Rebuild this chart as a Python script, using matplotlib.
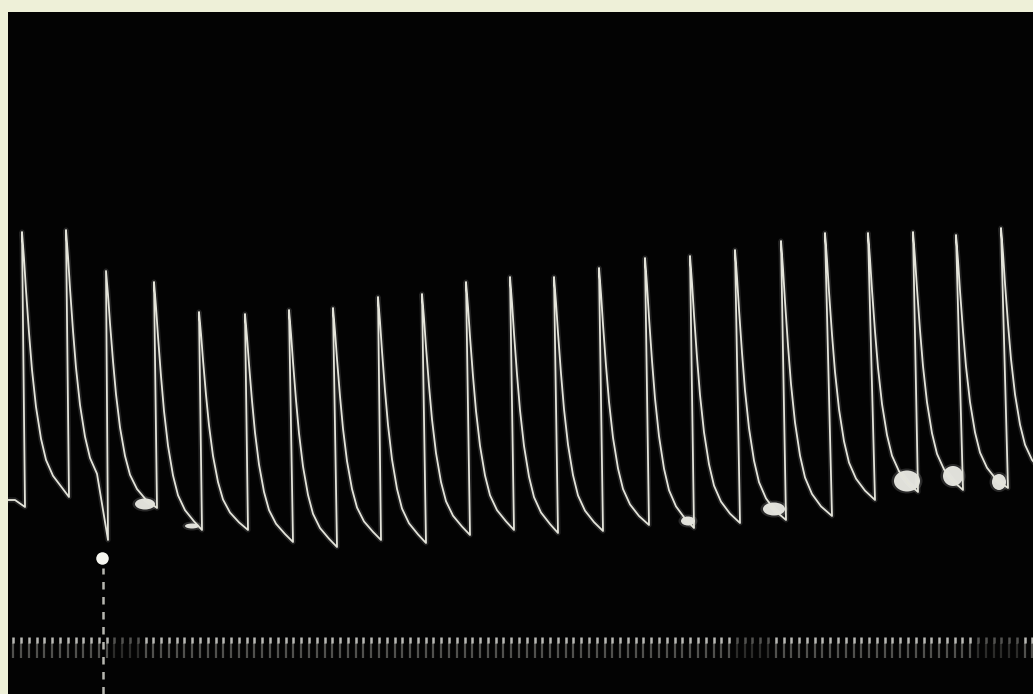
import matplotlib
matplotlib.use("Agg")
import matplotlib.pyplot as plt
from matplotlib.patches import Ellipse
import numpy as np

# oscilloscope record of a twitch series; time in trace units, tension in a.u.
peak_time = [14, 58, 98, 146, 191, 237, 281, 325, 370, 414, 458, 502,
             546, 591, 637, 682, 727, 773, 817, 860, 905, 948, 993]
peak_tension = [462, 464, 423, 412, 382, 380, 384, 386, 397, 400, 412, 417,
                417, 426, 436, 438, 444, 453, 461, 461, 462, 459, 466]
foot_time = [17, 61, 100, 149, 194, 240, 285, 329, 373, 418, 462, 506,
             550, 595, 641, 686, 732, 778, 824, 867, 910, 955, 1000]
foot_tension = [187, 197, 154, 186, 164, 164, 152, 147, 154, 151, 159, 164,
                161, 163, 169, 166, 171, 174, 178, 194, 202, 204, 206]
# level the relaxation settles at after each twitch
rest_tension = [197, 199, 186, 164, 164, 152, 147, 154, 151, 159, 164, 161,
                163, 169, 166, 171, 174, 178, 194, 202, 204, 206, 214]

# relaxation profile (time after peak, fraction of amplitude left)
relax_dt = [2, 4, 7, 10, 14, 19, 24, 31, 40]
relax_frac = [0.90, 0.78, 0.62, 0.48, 0.34, 0.22, 0.14, 0.08, 0.035]

lead_time = [0, 7]
lead_tension = [194, 194]
end_time = 1025

# bright noisy patches at the bottom of some relaxations: time, tension, width, height
blob_time = [137, 184, 680, 766, 899, 945, 991]
blob_tension = [190, 168, 173, 185, 213, 218, 212]
blob_w = [20, 14, 14, 22, 26, 20, 14]
blob_h = [11, 5, 9, 13, 21, 20, 16]

stim_time = 94
stim_tension = 136

marker_start = 5.3
marker_period = 7.78
dim_ranges = [(102, 132), (725, 765), (965, 1012)]

BG = '#eef0d8'
TRACE = '#e4e4da'

fig = plt.figure(figsize=(10.33, 6.94), dpi=100, facecolor=BG)
ax = fig.add_axes([8 / 1033, 0, 1025 / 1033, 682 / 694])
ax.set_facecolor('#030303')
ax.set_xlim(0, 1025)
ax.set_ylim(0, 682)
ax.set_xticks([])
ax.set_yticks([])
for s in ax.spines.values():
    s.set_visible(False)

# build the trace
t, v = list(lead_time), list(lead_tension)
n = len(peak_time)
for i in range(n):
    t += [foot_time[i], peak_time[i]]
    v += [foot_tension[i], peak_tension[i]]
    amp = peak_tension[i] - rest_tension[i]
    stop = foot_time[i + 1] - 6 if i + 1 < n else end_time + 50
    for dx, f in zip(relax_dt, relax_frac):
        if peak_time[i] + dx > stop:
            break
        t.append(peak_time[i] + dx)
        v.append(rest_tension[i] + f * amp)

ax.plot(t, v, color='white', lw=3.8, alpha=0.12, solid_joinstyle='round')
ax.plot(t, v, color=TRACE, lw=1.3, solid_joinstyle='round')

for bt, bv, bw, bh in zip(blob_time, blob_tension, blob_w, blob_h):
    ax.add_patch(Ellipse((bt, bv), bw + 5, bh + 4, color='white', alpha=0.15, lw=0))
    ax.add_patch(Ellipse((bt, bv), bw, bh, color='#f4f4ee', alpha=0.9, lw=0))

# time marker row
marks = np.arange(marker_start, 1025, marker_period)
for m in marks:
    dim = any(a <= m <= b for a, b in dim_ranges)
    ax.plot([m, m], [36, 51], color='#bbbbb4', lw=1.6, alpha=0.22 if dim else 0.42,
            solid_capstyle='butt')
    ax.plot([m, m], [51, 57], color='#e8e8e2', lw=1.8, alpha=0.35 if dim else 0.8,
            solid_capstyle='butt')

# stimulus marker
ax.plot([stim_time + 1, stim_time + 1], [0, stim_tension - 10], color='#d8d8d0',
        lw=1.8, ls=(0, (3, 3)), alpha=0.85)
ax.plot([stim_time], [stim_tension], 'o', color='#f6f6f0', ms=9, mec='none')

fig.savefig('out.png', dpi=100, facecolor=fig.get_facecolor())
